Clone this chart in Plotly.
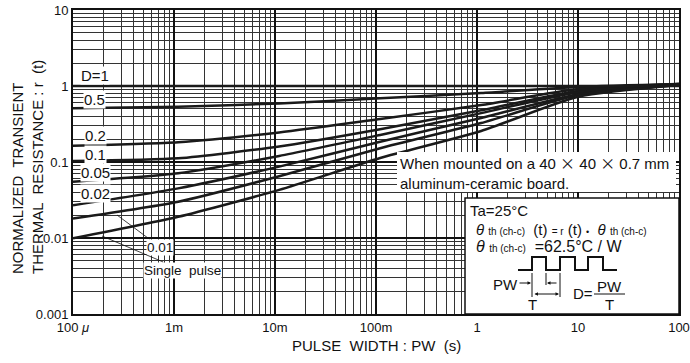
import math
import plotly.graph_objects as go

# ---------------- data ----------------
pulse_width = [1e-4, 1.1e-3, 1.1e-2, 0.11, 1.1, 10, 100]
r_d05 = [0.51, 0.534, 0.59, 0.69, 0.81, 0.97, 1.06]
r_d02 = [0.164, 0.182, 0.245, 0.368, 0.562, 0.91, 1.06]
r_d01 = [0.103, 0.112, 0.16, 0.27, 0.48, 0.86, 1.06]
r_d005 = [0.055, 0.071, 0.12, 0.227, 0.44, 0.83, 1.05]
r_d002 = [0.027, 0.045, 0.087, 0.185, 0.38, 0.78, 1.04]
r_d001 = [0.018, 0.030, 0.065, 0.152, 0.326, 0.76, 1.03]
r_single = [0.0099, 0.019, 0.043, 0.113, 0.256, 0.72, 1.03]
d1_x = [1e-4, 100]
d1_r = [1.0, 1.0]

x_tickvals = [1e-4, 1e-3, 1e-2, 1e-1, 1, 10, 100]
x_ticktext = ["100 <i>μ</i>", "1m", "10m", "100m", "1", "10", "100"]
y_tickvals = [0.001, 0.01, 0.1, 1, 10]
y_ticktext = ["0.001", "0.01", "0.1", "1", "10"]

FONT = "Liberation Sans, Arial, sans-serif"
INK = "#1a1a1a"

# plot area in pixels (for placing decorations)
L, R, T, B = 73, 679, 10, 314
def PX(x):
    return (x - L) / (R - L)
def PY(y):
    return (B - y) / (B - T)

fig = go.Figure()
series = [r_d05, r_d02, r_d01, r_d005, r_d002, r_d001, r_single]
for s in series:
    fig.add_trace(go.Scatter(x=pulse_width, y=s, mode="lines",
                             line=dict(color=INK, width=2.5, shape="spline", smoothing=0.6),
                             hoverinfo="skip", showlegend=False))
fig.add_trace(go.Scatter(x=d1_x, y=d1_r, mode="lines",
                         line=dict(color=INK, width=2.5), showlegend=False))

minor_x = [m * 10 ** e for e in range(-4, 2) for m in range(2, 10)]
minor_y = [m * 10 ** e for e in range(-3, 1) for m in range(2, 10)]

fig.update_xaxes(type="log", range=[-4, 2], tickmode="array", tickvals=x_tickvals,
                 ticktext=x_ticktext, showgrid=True, gridcolor="#111", gridwidth=1.5,
                 minor=dict(tickmode="array", tickvals=minor_x, showgrid=True,
                            gridcolor="#333", gridwidth=1),
                 showline=True, mirror=True, linecolor="#111", linewidth=2, automargin=False,
                 ticks="", zeroline=False, tickfont=dict(size=13, color="#111", family=FONT))
fig.update_yaxes(type="log", range=[-3, 1], tickmode="array", tickvals=y_tickvals,
                 ticktext=y_ticktext, showgrid=True, gridcolor="#111", gridwidth=1.5,
                 minor=dict(tickmode="array", tickvals=minor_y, showgrid=True,
                            gridcolor="#333", gridwidth=1),
                 showline=True, mirror=True, linecolor="#111", linewidth=2, automargin=False,
                 ticks="", zeroline=False, tickfont=dict(size=13, color="#111", family=FONT))

shapes = []
# white boxes
shapes.append(dict(type="rect", xref="paper", yref="paper", x0=PX(397), x1=PX(676),
                   y0=PY(192), y1=PY(152), fillcolor="white", line=dict(width=0), layer="above"))
shapes.append(dict(type="rect", xref="paper", yref="paper", x0=PX(465), x1=PX(679),
                   y0=PY(314), y1=PY(198), fillcolor="white", line=dict(color="#111", width=1.5),
                   layer="above"))
# pulse waveform
pts = [(518, 270), (532, 270), (532, 257), (546, 257), (546, 270), (560, 270), (560, 257),
       (575, 257), (575, 270), (588, 270), (588, 257), (603, 257), (603, 270), (617, 270)]
path = "M " + " L ".join(f"{PX(a):.5f},{PY(b):.5f}" for a, b in pts)
shapes.append(dict(type="path", xref="paper", yref="paper", path=path,
                   line=dict(color="#111", width=2), layer="above"))
# dimension lines
for (xa, ya, xb, yb) in [(532, 273, 532, 297), (546, 273, 546, 285), (560, 273, 560, 297),
                         (594, 294, 625, 294)]:
    shapes.append(dict(type="line", xref="paper", yref="paper", x0=PX(xa), y0=PY(ya),
                       x1=PX(xb), y1=PY(yb), line=dict(color="#111", width=1), layer="above"))

ann = []
def txt(text, x, y, size=14, xanchor="center", bg=None, align="left"):
    d = dict(text=text, xref="paper", yref="paper", x=PX(x), y=PY(y), showarrow=False,
             xanchor=xanchor, yanchor="middle", align=align,
             font=dict(size=size, color="#111", family=FONT))
    if bg:
        d["bgcolor"] = bg
        d["borderpad"] = 0
    ann.append(d)

# curve labels
txt("D=1", 95, 76, 15, bg="white")
txt("0.5", 94, 99, 15, bg="white")
txt("0.2", 95, 135, 15, bg="white")
txt("0.1", 95, 154, 15, bg="white")
txt("0.05", 95, 173, 15, bg="white")
txt("0.02", 95, 193, 15, bg="white")

# leader labels
for label, hx, hy, tx, ty in [("0.01", 117, 215, 160, 247), ("Single  pulse", 102, 236, 182, 270)]:
    ann.append(dict(text=label, xref="paper", yref="paper", x=PX(hx), y=PY(hy),
                    ax=tx - hx, ay=ty - hy, showarrow=True, arrowhead=0, arrowwidth=0.8,
                    arrowcolor="#111", bgcolor="white", borderpad=0,
                    font=dict(size=13.5, color="#111", family=FONT)))

# mounting note
cx = "<span style='font-family:Noto Sans CJK JP'>×</span>"
txt(f"When mounted on a 40 {cx} 40 {cx} 0.7 mm<br>aluminum-ceramic board.", 398, 172, 15,
    xanchor="left")

# conditions box
small = "<span style='font-size:10px'>th (ch-c)</span>"
txt("Ta=25°C", 468, 210, 15, xanchor="left")
txt(f"<i>θ</i> {small}  (t) <span style='font-size:10px'>= r</span> (t) "
    f"<span style='font-size:9px'>•</span>  <i>θ</i> {small}", 474, 229, 15, xanchor="left")
txt(f"<i>θ</i> {small}  =62.5°C / W", 474, 246, 16, xanchor="left")
txt("PW", 505, 284, 15)
txt("T", 532, 304, 15)
txt("D=", 583, 293, 15)
txt("PW", 609, 286, 15)
txt("T", 609, 304, 15)

# arrows in the pulse diagram
for hx, hy, dx, side in [(531, 283, -13, "end"), (547, 283, 11, "end")]:
    ann.append(dict(text="", xref="paper", yref="paper", x=PX(hx), y=PY(hy), ax=dx, ay=0,
                    showarrow=True, arrowhead=2, arrowsize=0.7, arrowwidth=1,
                    arrowcolor="#111", arrowside=side))
ann.append(dict(text="", xref="paper", yref="paper", x=PX(559), y=PY(294), ax=-26, ay=0,
                showarrow=True, arrowhead=2, arrowsize=0.7, arrowwidth=1, arrowcolor="#111",
                arrowside="end+start"))

# axis titles
txt("PULSE  WIDTH : PW  (s)", 376, 346, 15)
ann.append(dict(text="NORMALIZED  TRANSIENT<br>THERMAL  RESISTANCE : r  (t)",
                xref="paper", yref="paper", x=PX(27), y=PY(167), showarrow=False,
                textangle=-90, align="left", xanchor="center", yanchor="middle",
                font=dict(size=15, color="#111", family=FONT)))

fig.update_layout(width=690, height=363, margin=dict(l=L, r=690 - R, t=T, b=363 - B),
                  paper_bgcolor="white", plot_bgcolor="white", shapes=shapes,
                  annotations=ann, font=dict(family=FONT, color="#111"))
fig.write_html("out.html")
